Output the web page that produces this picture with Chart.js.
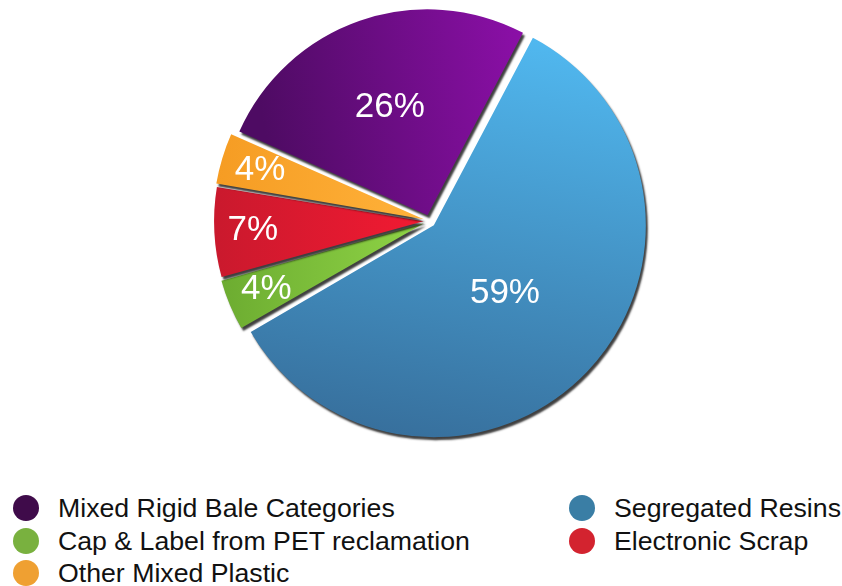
<!DOCTYPE html>
<html>
<head>
<meta charset="utf-8">
<script src="https://cdn.jsdelivr.net/npm/chart.js@4.4.1/dist/chart.umd.min.js"></script>
<style>
  html, body { margin: 0; padding: 0; background: #fff; }
  #wrap { position: relative; width: 842px; height: 586px; overflow: hidden; }
  #chartBox { position: absolute; left: 0; top: 0; width: 842px; height: 460px; }
  #legend { position: absolute; left: 0; top: 492px; width: 842px; font-family: "Liberation Sans", Arial, Helvetica, sans-serif; font-size: 26.7px; color: #111; }
  .item { position: absolute; height: 32px; line-height: 32px; white-space: nowrap; }
  .dot { position: absolute; left: 0; top: 3px; width: 26px; height: 26px; border-radius: 50%; }
  .txt { position: absolute; left: 45px; top: 0; }
</style>
</head>
<body>
<div id="wrap">
  <div id="chartBox"><canvas id="graficoPizza"></canvas></div>
  <div id="legend"></div>
</div>
<script>
const categorias = ['Mixed Rigid Bale Categories', 'Segregated Resins', 'Cap & Label from PET reclamation', 'Electronic Scrap', 'Other Mixed Plastic'];
const percentuais = [26, 59, 4, 7, 4];
const coresLegenda = ['#3f0b4a', '#3a7ea5', '#79b13f', '#d3232f', '#efa032'];
// cores de cada fatia: [claro, escuro]
const coresFatia = [
  ['#8a0fa6', '#4e0b63'],
  ['#52bcf4', '#376f9c'],
  ['#8fd446', '#6aa92f'],
  ['#f21a32', '#c8192d'],
  ['#ffb23a', '#f59b22']
];

document.addEventListener('DOMContentLoaded', function () {
  // sombra sob as fatias
  const sombra = {
    id: 'sombra',
    beforeDatasetsDraw(chart) {
      const ctx = chart.ctx;
      ctx.save();
      ctx.shadowColor = 'rgba(0,0,0,0.75)';
      ctx.shadowBlur = 2;
      ctx.shadowOffsetX = 2;
      ctx.shadowOffsetY = 3;
    },
    afterDatasetsDraw(chart) {
      chart.ctx.restore();
    }
  };

  // rótulos de porcentagem dentro das fatias
  const rotulos = {
    id: 'rotulos',
    afterDraw(chart) {
      const ctx = chart.ctx;
      const meta = chart.getDatasetMeta(0);
      const desloc = chart.data.datasets[0].offset / 4;
      ctx.save();
      ctx.fillStyle = '#fff';
      ctx.font = '35px "Liberation Sans", Arial, sans-serif';
      ctx.textAlign = 'center';
      ctx.textBaseline = 'middle';
      meta.data.forEach(function (arc, i) {
        const a = (arc.startAngle + arc.endAngle) / 2;
        // fatias grandes: rótulo mais perto do centro; pequenas: perto da borda
        const k = percentuais[i] >= 20 ? 0.62 - 0.0024 * percentuais[i] : 0.83;
        const d = arc.outerRadius * k + desloc;
        ctx.fillText(percentuais[i] + '%', arc.x + Math.cos(a) * d, arc.y + Math.sin(a) * d);
      });
      ctx.restore();
    }
  };

  function gradiente(context) {
    const chart = context.chart;
    const area = chart.chartArea;
    if (!area) return coresFatia[context.dataIndex][0];
    const i = context.dataIndex;
    const cx = (area.left + area.right) / 2;
    const cy = (area.top + area.bottom) / 2;
    const r = Math.min(area.right - area.left, area.bottom - area.top) / 2;
    let g;
    if (i === 0) {
      g = chart.ctx.createLinearGradient(cx + r * 0.5, cy - r * 0.3, cx - r * 0.7, cy - r * 0.1);
    } else if (i === 1) {
      g = chart.ctx.createLinearGradient(cx + r * 0.3, cy - r, cx - r * 0.1, cy + r);
    } else {
      g = chart.ctx.createLinearGradient(cx, cy, cx - r, cy);
    }
    g.addColorStop(0, coresFatia[i][0]);
    g.addColorStop(1, coresFatia[i][1]);
    return g;
  }

  const ctxPizza = document.getElementById('graficoPizza');
  new Chart(ctxPizza, {
    type: 'pie',
    data: {
      labels: categorias,
      datasets: [{
        data: percentuais,
        backgroundColor: gradiente,
        borderWidth: 0,
        offset: 24,
        hoverOffset: 0
      }]
    },
    options: {
      responsive: true,
      maintainAspectRatio: false,
      animation: false,
      rotation: -66,
      layout: { padding: { left: 17, top: 3, bottom: 21 } },
      plugins: {
        legend: { display: false },
        tooltip: { enabled: false }
      }
    },
    plugins: [sombra, rotulos]
  });

  // legenda em duas colunas
  const legenda = document.getElementById('legend');
  const posicoes = [[13, 0], [569, 0], [13, 32.5], [569, 32.5], [13, 65]];
  categorias.forEach(function (nome, i) {
    const item = document.createElement('div');
    item.className = 'item';
    item.style.left = posicoes[i][0] + 'px';
    item.style.top = posicoes[i][1] + 'px';
    const dot = document.createElement('span');
    dot.className = 'dot';
    dot.style.background = coresLegenda[i];
    const txt = document.createElement('span');
    txt.className = 'txt';
    txt.textContent = nome;
    item.appendChild(dot);
    item.appendChild(txt);
    legenda.appendChild(item);
  });
});
</script>
</body>
</html>
